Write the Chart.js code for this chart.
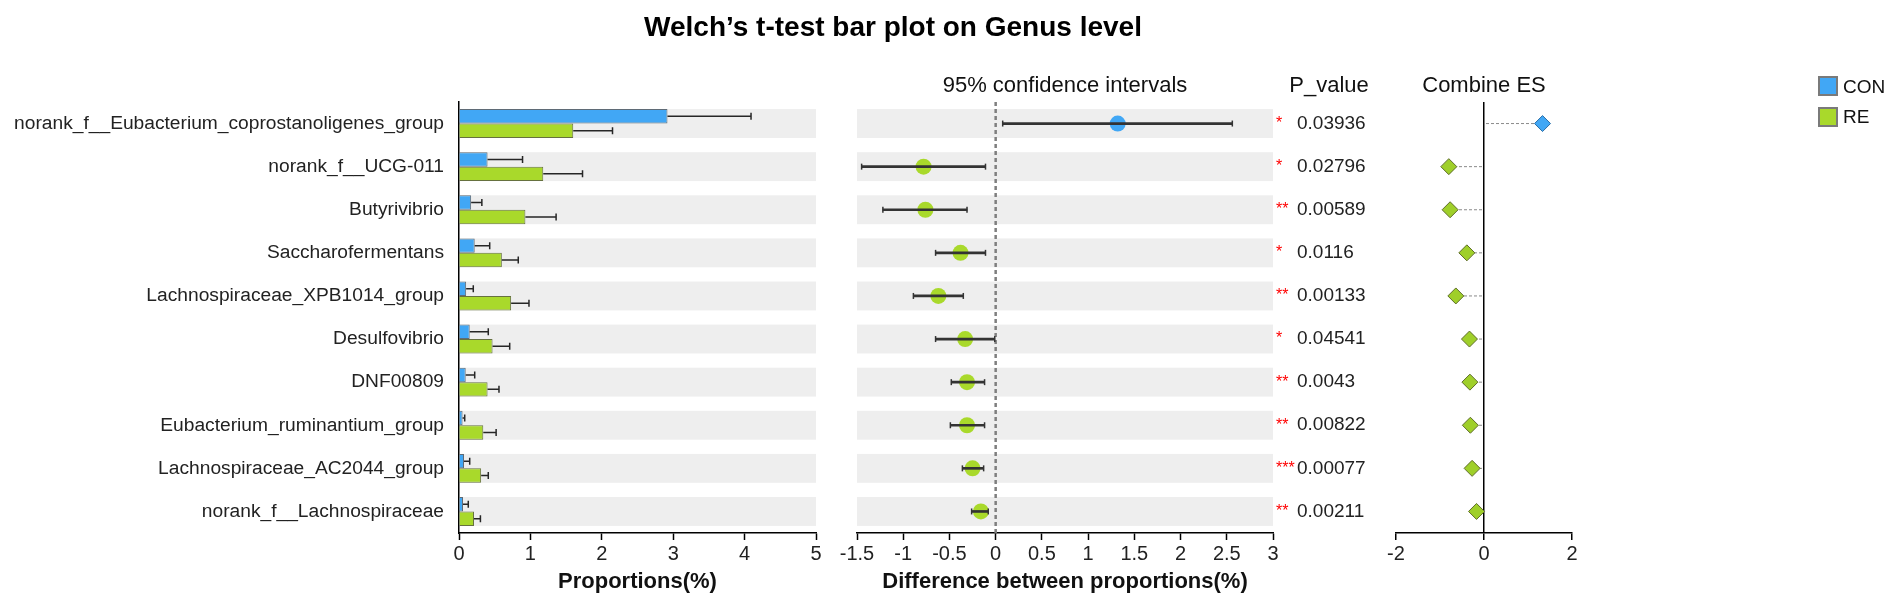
<!DOCTYPE html>
<html><head><meta charset="utf-8">
<script src="https://cdn.jsdelivr.net/npm/chart.js@4.4.1/dist/chart.umd.min.js"></script>
<style>
html,body{margin:0;padding:0;background:#fff;}
#wrap{position:relative;width:1899px;height:610px;overflow:hidden;font-family:"Liberation Sans",Arial,sans-serif;}
canvas{position:absolute;left:0;top:0;}
.t{position:absolute;white-space:nowrap;color:#111;}
.c{transform:translateX(-50%);}
.sq{position:absolute;width:20px;height:20px;box-sizing:border-box;border:2px solid #7a7a7a;}
</style></head><body>
<div id="wrap">
<canvas id="c1" width="1899" height="610"></canvas>
<canvas id="c2" width="1899" height="610"></canvas>
<canvas id="c3" width="1899" height="610"></canvas>
<div class="t c" style="left:893px;top:13px;font-size:28px;line-height:28px;font-weight:bold;color:#000;">Welch’s t-test bar plot on Genus level</div>
<div class="t c" style="left:1065px;top:74px;font-size:22px;line-height:22px;">95% confidence intervals</div>
<div class="t c" style="left:1329px;top:74px;font-size:22px;line-height:22px;">P_value</div>
<div class="t c" style="left:1484px;top:74px;font-size:22px;line-height:22px;">Combine ES</div>
<div class="sq" style="left:1818px;top:76px;background:#41a7f5;"></div>
<div class="t" style="left:1843px;top:77px;font-size:19px;line-height:19px;">CON</div>
<div class="sq" style="left:1818px;top:107px;background:#a9d92b;"></div>
<div class="t" style="left:1843px;top:107px;font-size:19px;line-height:19px;">RE</div>
</div>
<script>
// ---------- data ----------
const genera = ['norank_f__Eubacterium_coprostanoligenes_group','norank_f__UCG-011','Butyrivibrio','Saccharofermentans','Lachnospiraceae_XPB1014_group','Desulfovibrio','DNF00809','Eubacterium_ruminantium_group','Lachnospiraceae_AC2044_group','norank_f__Lachnospiraceae'];
const conMean = [2.92,0.40,0.17,0.22,0.10,0.15,0.094,0.05,0.07,0.056];
const conSd   = [1.17,0.49,0.15,0.21,0.10,0.26,0.126,0.03,0.08,0.074];
const reMean  = [1.60,1.18,0.93,0.60,0.73,0.47,0.40,0.34,0.31,0.21];
const reSd    = [0.55,0.55,0.43,0.23,0.25,0.24,0.16,0.18,0.10,0.09];
const diff    = [1.32,-0.78,-0.76,-0.38,-0.62,-0.33,-0.31,-0.31,-0.25,-0.16];
const ciLow   = [0.076,-1.45,-1.22,-0.65,-0.89,-0.65,-0.48,-0.49,-0.36,-0.26];
const ciHigh  = [2.56,-0.11,-0.31,-0.11,-0.35,-0.01,-0.12,-0.12,-0.13,-0.08];
const stars   = ['*','*','**','*','**','*','**','**','***','**'];
const pValues = ['0.03936','0.02796','0.00589','0.0116','0.00133','0.04541','0.0043','0.00822','0.00077','0.00211'];
const effect  = [1.33,-0.80,-0.77,-0.39,-0.64,-0.33,-0.32,-0.31,-0.27,-0.17];
const propAxis = [0,5,1];
const diffAxis = [-1.5,3,0.5];
const esAxis   = [-2,2,2];

// ---------- style ----------
const FONT = "'Liberation Sans', Arial, sans-serif";
Chart.defaults.font.family = FONT;
Chart.defaults.color = '#222';
const BLUE = '#41a7f5', GREEN = '#a9d92b';
const W = 1899;

const bands = {
  id:'bands',
  beforeDraw(chart, args, o){
    if(!o || !o.color) return;
    const {ctx, chartArea:a, scales:{y}} = chart;
    const step = y.getPixelForValue(1) - y.getPixelForValue(0);
    const h = step * o.frac;
    ctx.save(); ctx.fillStyle = o.color;
    chart.data.labels.forEach((l,i)=>{
      const c = y.getPixelForValue(i);
      ctx.fillRect(a.left, c - h/2, a.right - a.left, h);
    });
    ctx.restore();
  }
};
const errBars = {
  id:'errBars',
  afterDatasetsDraw(chart){
    const {ctx, scales:{x}} = chart;
    chart.data.datasets.forEach((ds, di)=>{
      if(!ds.errors) return;
      const meta = chart.getDatasetMeta(di);
      meta.data.forEach((bar, i)=>{
        const x0 = x.getPixelForValue(ds.data[i]), x1 = x.getPixelForValue(ds.data[i] + ds.errors[i]);
        ctx.save(); ctx.strokeStyle = '#262626'; ctx.lineWidth = 1.5;
        ctx.beginPath(); ctx.moveTo(x0, bar.y); ctx.lineTo(x1, bar.y);
        ctx.moveTo(x1, bar.y - 3.5); ctx.lineTo(x1, bar.y + 3.5); ctx.stroke(); ctx.restore();
      });
    });
  }
};
const ciCaps = {
  id:'ciCaps',
  beforeDatasetsDraw(chart){
    const {ctx, chartArea:a, scales:{x}} = chart;
    const x0 = x.getPixelForValue(0);
    ctx.save(); ctx.strokeStyle = '#7f7f7f'; ctx.lineWidth = 2.5; ctx.setLineDash([4,3]);
    ctx.beginPath(); ctx.moveTo(x0, a.top); ctx.lineTo(x0, a.bottom); ctx.stroke(); ctx.restore();
  },
  afterDatasetsDraw(chart){
    const {ctx, scales:{x}} = chart;
    const meta = chart.getDatasetMeta(0);
    ctx.save(); ctx.strokeStyle = '#333'; ctx.lineWidth = 1.5;
    meta.data.forEach((bar,i)=>{
      [ciLow[i], ciHigh[i]].forEach(v=>{
        const px = x.getPixelForValue(v);
        ctx.beginPath(); ctx.moveTo(px, bar.y - 3); ctx.lineTo(px, bar.y + 3); ctx.stroke();
      });
    });
    ctx.restore();
  }
};
const esLines = {
  id:'esLines',
  beforeDatasetsDraw(chart){
    const {ctx, scales:{x}} = chart;
    const x0 = x.getPixelForValue(0);
    const meta = chart.getDatasetMeta(0);
    ctx.save(); ctx.strokeStyle = '#8a8a8a'; ctx.lineWidth = 1; ctx.setLineDash([3,2]);
    meta.data.forEach(p=>{ ctx.beginPath(); ctx.moveTo(x0 + (p.x > x0 ? 2 : -2), p.y); ctx.lineTo(p.x, p.y); ctx.stroke(); });
    ctx.restore();
  }
};

const xAxisBase = (r, title) => ({
  type:'linear', min:r[0], max:r[1],
  afterFit(s){ s.height = 77; },
  ticks:{stepSize:r[2], padding:2, color:'#222', font:{size:20}, callback:v => String(Math.round(v*100)/100)},
  grid:{drawOnChartArea:false, drawTicks:true, tickLength:7, color:'#000', tickWidth:1.5},
  border:{display:true, color:'#000', width:1.5},
  title: title ? {display:true, text:title, color:'#111', font:{size:22, weight:'bold'}, padding:{top:0, bottom:15}} : {display:false}
});
const hiddenY = {type:'category', display:false, offset:true, afterFit(s){ s.width = 0; }};

// ---------- chart 1: proportions ----------
new Chart(document.getElementById('c1'), {
  type:'bar',
  data:{labels:genera, datasets:[
    {label:'CON', data:conMean, errors:conSd, backgroundColor:BLUE, borderColor:'#5f6b76', borderWidth:1, categoryPercentage:0.67, barPercentage:1},
    {label:'RE', data:reMean, errors:reSd, backgroundColor:GREEN, borderColor:'#66713f', borderWidth:1, categoryPercentage:0.67, barPercentage:1}
  ]},
  options:{
    indexAxis:'y', responsive:false, animation:false,
    layout:{padding:{left:0, top:102, right:W-816, bottom:0}},
    plugins:{legend:{display:false}, tooltip:{enabled:false}, bands:{color:'#eeeeee', frac:0.67}},
    scales:{
      y:{type:'category', offset:true, afterFit(s){ s.width = 459; },
         grid:{display:false, drawTicks:false}, border:{display:true, color:'#000', width:1.5},
         ticks:{padding:15, color:'#222', font:{size:19.2}}},
      x:xAxisBase(propAxis, 'Proportions(%)')
    }
  },
  plugins:[bands, errBars]
});

// ---------- chart 2: confidence intervals ----------
new Chart(document.getElementById('c2'), {
  data:{labels:genera, datasets:[
    {type:'bar', data:ciLow.map((l,i)=>[l, ciHigh[i]]), backgroundColor:'#333', barThickness:2, xAxisID:'x', yAxisID:'y'},
    {type:'line', data:diff, showLine:false, pointRadius:8, pointHoverRadius:8, pointBorderWidth:0,
     pointBackgroundColor:diff.map(d=> d>0 ? BLUE : GREEN), xAxisID:'x', yAxisID:'y'}
  ]},
  options:{
    indexAxis:'y', responsive:false, animation:false,
    layout:{padding:{left:857, top:102, right:W-1273-122, bottom:0}},
    plugins:{legend:{display:false}, tooltip:{enabled:false}, bands:{color:'#eeeeee', frac:0.67}},
    scales:{
      y:hiddenY,
      yStar:{type:'category', labels:stars, position:'right', offset:true, weight:0, afterFit(s){ s.width = 22; },
             grid:{display:false, drawTicks:false}, border:{display:false}, ticks:{padding:3, color:'#ff0000', font:{size:16}}},
      yP:{type:'category', labels:pValues, position:'right', offset:true, weight:1, afterFit(s){ s.width = 100; },
          grid:{display:false, drawTicks:false}, border:{display:false}, ticks:{padding:2, color:'#222', font:{size:19}}},
      x:xAxisBase(diffAxis, 'Difference between proportions(%)')
    }
  },
  plugins:[bands, ciCaps]
});

// ---------- chart 3: combined effect size ----------
const esX = xAxisBase(esAxis, null);
esX.grid = {drawOnChartArea:true, drawTicks:true, tickLength:7, tickColor:'#000', tickWidth:1.5,
            color:c => (c.tick && c.tick.value === 0) ? '#000' : 'rgba(0,0,0,0)', lineWidth:1.5};
new Chart(document.getElementById('c3'), {
  type:'line',
  data:{labels:genera, datasets:[
    {data:effect, showLine:false, pointStyle:'rectRot', pointRadius:8, pointHoverRadius:8, pointBorderWidth:1,
     pointBackgroundColor:effect.map(v=> v>0 ? BLUE : '#9fcf2a'),
     pointBorderColor:effect.map(v=> v>0 ? '#2c6ea6' : '#5f6d2a')}
  ]},
  options:{
    indexAxis:'y', responsive:false, animation:false,
    layout:{padding:{left:1396, top:102, right:W-1572, bottom:0}},
    plugins:{legend:{display:false}, tooltip:{enabled:false}},
    scales:{ y:hiddenY, x:esX }
  },
  plugins:[esLines]
});
</script>
</body></html>
